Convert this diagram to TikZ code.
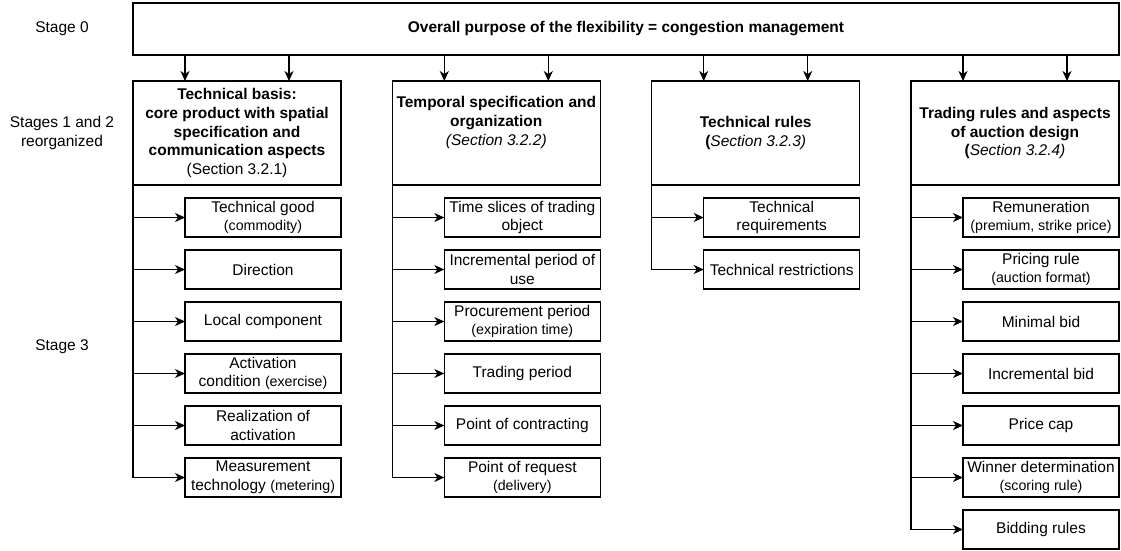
\documentclass[tikz,border=0pt]{standalone}
\usepackage{fontspec}
\setmainfont{Liberation Sans}
\usetikzlibrary{positioning, arrows.meta, calc}

\tikzset{
  box/.style={draw, line width=1.3pt, align=center, inner sep=0pt, outer sep=0pt},
  topbox/.style={box, minimum width=986pt, minimum height=52pt},
  head/.style={box, minimum width=208pt, minimum height=104pt},
  item/.style={box, minimum width=156pt, minimum height=39pt},
  stage/.style={align=center},
  conn/.style={line width=1.3pt, -{Stealth[length=10pt,width=9pt,inset=3pt]}},
}
\newcommand{\smtxt}[1]{{\fontsize{14.2}{17}\selectfont #1}}

\begin{document}
\begin{tikzpicture}[x=1pt, y=-1pt, font=\fontsize{15.5}{18.6}\selectfont]
\useasboundingbox (0,0) rectangle (1121,550);

% stages
\node[stage] (st0) at (62,29) {Stage 0};
\node[stage] (st12) at (62,133) {Stages 1 and 2\\reorganized};
\node[stage] (st3) at (62,347) {Stage 3};

\node[topbox] (goal) at (626,29) {\textbf{Overall purpose of the flexibility = congestion management}};

% headers
\node[head] (techA) at (237,133) {\textbf{Technical basis:}\\\textbf{core product with spatial}\\\textbf{specification and}\\\textbf{communication aspects}\\(Section 3.2.1)};
\node[head] (timeB) at (496.3,133) {\textbf{Temporal specification and}\\\textbf{organization}\\\textit{(Section 3.2.2)}\\\strut};
\node[head] (ruleC) at (755.7,133) {\textbf{Technical rules}\\\textbf{(}\textit{Section 3.2.3)}};
\node[head] (tradeD) at (1015,133) {\textbf{Trading rules and aspects}\\\textbf{of auction design}\\\textbf{(}\textit{Section 3.2.4)}};

% column A
\node[item, below=13pt of techA.south east, anchor=north east] (good) {Technical good\\\smtxt{(commodity)}};
\node[item, below=13pt of good] (dir) {Direction};
\node[item, below=13pt of dir] (local) {Local component};
\node[item, below=13pt of local] (actcond) {Activation\\condition \smtxt{(exercise)}};
\node[item, below=13pt of actcond] (real) {Realization of\\activation};
\node[item, below=13pt of real] (meter) {Measurement\\technology \smtxt{(metering)}};

% column B
\node[item, below=13pt of timeB.south east, anchor=north east] (slices) {Time slices of trading\\object};
\node[item, below=13pt of slices] (incuse) {Incremental period of\\use};
\node[item, below=13pt of incuse] (procure) {Procurement period\\\smtxt{(expiration time)}};
\node[item, below=13pt of procure] (tradper) {Trading period};
\node[item, below=13pt of tradper] (contract) {Point of contracting};
\node[item, below=13pt of contract] (request) {Point of request\\\smtxt{(delivery)}};

% column C
\node[item, below=13pt of ruleC.south east, anchor=north east] (requ) {Technical\\requirements};
\node[item, below=13pt of requ] (restr) {Technical restrictions};

% column D
\node[item, below=13pt of tradeD.south east, anchor=north east] (remun) {Remuneration\\\smtxt{(premium, strike price)}};
\node[item, below=13pt of remun] (pricing) {Pricing rule\\\smtxt{(auction format)}};
\node[item, below=13pt of pricing] (minbid) {Minimal bid};
\node[item, below=13pt of minbid] (incbid) {Incremental bid};
\node[item, below=13pt of incbid] (cap) {Price cap};
\node[item, below=13pt of cap] (winner) {Winner determination\\\smtxt{(scoring rule)}};
\node[item, below=13pt of winner] (bidrules) {Bidding rules};

% arrows from stage 0
\foreach \h in {techA, timeB, ruleC, tradeD} {
  \coordinate (\h-l) at ($(\h.north west)!.25!(\h.north east)$);
  \coordinate (\h-r) at ($(\h.north west)!.75!(\h.north east)$);
  \draw[conn] (\h-l |- goal.south) -- (\h-l);
  \draw[conn] (\h-r |- goal.south) -- (\h-r);
}

% arrows to stage 3
\foreach \h/\s in {techA/good, techA/dir, techA/local, techA/actcond, techA/real, techA/meter,
  timeB/slices, timeB/incuse, timeB/procure, timeB/tradper, timeB/contract, timeB/request,
  ruleC/requ, ruleC/restr,
  tradeD/remun, tradeD/pricing, tradeD/minbid, tradeD/incbid, tradeD/cap, tradeD/winner, tradeD/bidrules}
  \draw[conn] (\h.south west) |- (\s.west);
\end{tikzpicture}
\end{document}
